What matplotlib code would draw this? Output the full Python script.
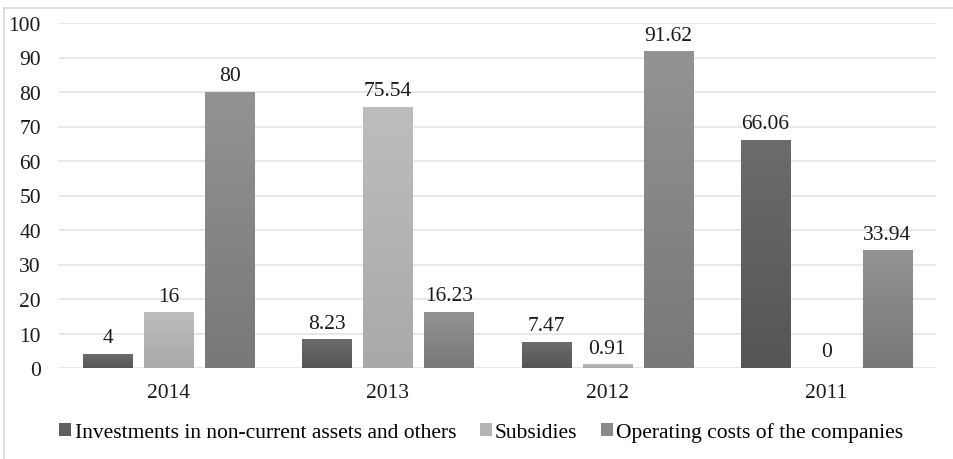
import matplotlib
matplotlib.use("Agg")
import matplotlib.pyplot as plt
import numpy as np
from matplotlib.patches import Patch
from matplotlib.lines import Line2D

years = ["2014", "2013", "2012", "2011"]
investments = [4, 8.23, 7.47, 66.06]
subsidies = [16, 75.54, 0.91, 0]
operating = [80, 16.23, 91.62, 33.94]
series_names = ["Investments in non-current assets and others", "Subsidies",
                "Operating costs of the companies"]
labels_txt = [["4", "8.23", "7.47", "66.06"], ["16", "75.54", "0.91", "0"],
              ["80", "16.23", "91.62", "33.94"]]

plt.rcParams['font.family'] = ['Liberation Serif', 'DejaVu Serif']
FS = 15.5

fig = plt.figure(figsize=(9.54, 4.6), dpi=100)
ax = fig.add_axes([59/954, 1-369/460, (936-59)/954, (369-24)/460])

x = np.arange(len(years))
width = 0.2235
offset = 0.278
flat = ["#5f5f5f", "#b5b5b5", "#8a8a8a"]
grads = [("#6c6c6c", "#555555"), ("#bdbdbd", "#a9a9a9"), ("#939393", "#787878")]
data = [investments, subsidies, operating]

ax.set_xlim(-0.5, len(years) - 0.5)
ax.set_ylim(0, 100)

for i, (vals, col, (ctop, cbot)) in enumerate(zip(data, flat, grads)):
    bars = ax.bar(x + (i - 1) * offset, vals, width, color=col, zorder=2)
    ct = np.array(matplotlib.colors.to_rgb(ctop))
    cb = np.array(matplotlib.colors.to_rgb(cbot))
    t = np.linspace(0, 1, 64)[:, None]
    img = (ct[None, :] * (1 - t) + cb[None, :] * t)[:, None, :]
    for b in bars:
        h = b.get_height()
        if h <= 0:
            continue
        x0 = b.get_x()
        ax.imshow(img, extent=[x0, x0 + b.get_width(), 0, h], aspect='auto',
                  origin='upper', zorder=3, interpolation='bilinear')
    for b, lab in zip(bars, labels_txt[i]):
        ax.annotate(lab, (b.get_x() + b.get_width() / 2, b.get_height()),
                    xytext=(0, 5), textcoords='offset points', ha='center',
                    va='bottom', fontsize=FS, color='#1a1a1a', zorder=4)

ax.set_xlim(-0.5, len(years) - 0.5)
ax.set_ylim(0, 100)
ax.set_yticks(np.arange(0, 101, 10))
ax.set_xticks(x)
ax.set_xticklabels(years)
ax.tick_params(axis='both', length=0, labelsize=FS, labelcolor='#1a1a1a')
ax.tick_params(axis='x', pad=11)
ax.tick_params(axis='y', pad=13)
ax.grid(axis='y', color='#e1e4ea', linewidth=1.2, zorder=0)
ax.set_axisbelow(True)
for s in ax.spines.values():
    s.set_visible(False)

handles = [Patch(facecolor=c) for c in flat]
fig.legend(handles, series_names, loc='center', bbox_to_anchor=(0.5045, 1 - 433/460),
           ncol=3, frameon=False, fontsize=FS, handlelength=0.55, handleheight=0.55,
           handletextpad=0.15, columnspacing=1.1, borderpad=0)

# figure border (top and left)
fig.add_artist(Line2D([4/954, 4/954], [0, 1 - 9/460], color='#d9d9d9', lw=1.2,
                      transform=fig.transFigure))
fig.add_artist(Line2D([4/954, 1], [1 - 9/460, 1 - 9/460], color='#d9d9d9', lw=1.2,
                      transform=fig.transFigure))

fig.savefig("out.png", dpi=100)
